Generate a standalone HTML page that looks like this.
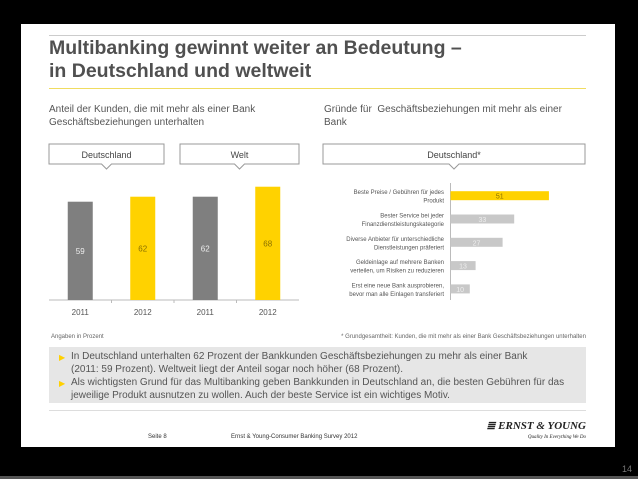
<!DOCTYPE html>
<html><head><meta charset="utf-8"><style>
body{margin:0;width:638px;height:479px;background:#000;position:relative;overflow:hidden;font-family:"Liberation Sans",sans-serif}
.a{position:absolute}
</style></head><body>
<div class="a" style="left:21px;top:24px;width:594px;height:423px;background:#fff"></div>
<div class="a" style="left:0;top:476px;width:638px;height:3px;background:#555"></div>
<div class="a" style="left:622px;top:464px;font-size:9px;color:#777">14</div>
<div class="a" style="left:49px;top:35px;width:537px;height:1px;background:#ccc"></div>
<div class="a" style="left:49px;top:37px;font-size:19.5px;font-weight:bold;color:#505050;line-height:23px">Multibanking gewinnt weiter an Bedeutung –<br>in Deutschland und weltweit</div>
<div class="a" style="left:49px;top:88px;width:537px;height:1px;background:#f0dc60"></div>
<div class="a" style="left:49px;top:103px;font-size:10px;color:#555;line-height:13px">Anteil der Kunden, die mit mehr als einer Bank<br>Geschäftsbeziehungen unterhalten</div>
<div class="a" style="left:324px;top:103px;font-size:10px;color:#555;line-height:13px">Gründe für&nbsp; Geschäftsbeziehungen mit mehr als einer<br>Bank</div>
<svg class="a" style="left:0;top:0" width="638" height="479" id="chart"></svg>
<div class="a" style="left:51px;top:334px;font-size:6px;color:#666">Angaben in Prozent</div>
<div class="a" style="right:52px;top:334px;font-size:6px;color:#666">* Grundgesamtheit: Kunden, die mit mehr als einer Bank Geschäftsbeziehungen unterhalten</div>
<div class="a" style="left:49px;top:347px;width:537px;height:56px;background:#e6e6e6;font-size:10px;color:#555;line-height:13.3px">
<div style="position:absolute;left:10px;top:4px;color:#ffd000;font-size:8px">▶</div>
<div style="position:absolute;left:22px;top:3px">In Deutschland unterhalten 62 Prozent der Bankkunden Geschäftsbeziehungen zu mehr als einer Bank<br>(2011: 59 Prozent). Weltweit liegt der Anteil sogar noch höher (68 Prozent).</div>
<div style="position:absolute;left:10px;top:30px;color:#ffd000;font-size:8px">▶</div>
<div style="position:absolute;left:22px;top:29px">Als wichtigsten Grund für das Multibanking geben Bankkunden in Deutschland an, die besten Gebühren für das<br>jeweilige Produkt ausnutzen zu wollen. Auch der beste Service ist ein wichtiges Motiv.</div>
</div>
<div class="a" style="left:49px;top:410px;width:537px;height:1px;background:#ddd"></div>
<div class="a" style="left:148px;top:434px;font-size:6px;color:#333">Seite 8</div>
<div class="a" style="left:231px;top:434px;font-size:6px;color:#333">Ernst &amp; Young-Consumer Banking Survey 2012</div>
<div class="a" style="right:52px;top:419px;font-size:11px;font-weight:bold;font-style:italic;color:#222;font-family:'Liberation Serif',serif">≣ ERNST &amp; YOUNG</div>
<div class="a" style="right:52px;top:435px;font-size:5px;font-style:italic;color:#222;font-family:'Liberation Serif',serif">Quality In Everything We Do</div>
<script>
const vCats=['2011','2012','2011','2012'];
const vVals=[59,62,62,68];
const vColors=['#7f7f7f','#ffd200','#7f7f7f','#ffd200'];
const hCats=[['Beste Preise / Gebühren für jedes','Produkt'],['Bester Service bei jeder','Finanzdienstleistungskategorie'],['Diverse Anbieter für unterschiedliche','Dienstleistungen präferiert'],['Geldeinlage auf mehrere Banken','verteilen, um Risiken zu reduzieren'],['Erst eine neue Bank ausprobieren,','bevor man alle Einlagen transferiert']];
const hVals=[51,33,27,13,10];
const svg=document.getElementById('chart');
const NS='http://www.w3.org/2000/svg';
function mk(t,a,txt){const e=document.createElementNS(NS,t);for(const k in a)e.setAttribute(k,a[k]);if(txt!=null)e.textContent=txt;svg.appendChild(e);return e;}
[[49,164,'Deutschland','de'],[180,299,'Welt','welt'],[323,585,'Deutschland*','de-reasons']].forEach(b=>{
 const cx=(b[0]+b[1])/2;
 const p=mk('path',{d:`M${b[0]} 144H${b[1]}V164H${cx+5}L${cx} 169L${cx-5} 164H${b[0]}Z`,fill:'#fff',stroke:'#999','stroke-width':1});
 
 
 const t=mk('text',{x:cx,y:158,'text-anchor':'middle','font-size':9,fill:'#444'},b[2]);
 
 
});
const base=300,scaleV=1.666,x0=49,slot=62.5,bw=25;
const vy=v=>base-v*scaleV;
const ax=mk('line',{x1:49,x2:299,y1:base,y2:base,stroke:'#bbb'});


for(let i=1;i<4;i++){const tk=mk('line',{x1:x0+slot*i,x2:x0+slot*i,y1:base,y2:base+3,stroke:'#bbb'});

}
vVals.forEach((v,i)=>{
 const cx=x0+slot*(i+0.5);
 const r=mk('rect',{x:cx-bw/2,y:vy(v),width:bw,height:base-vy(v),fill:vColors[i]});
 
 
 const t=mk('text',{x:cx,y:(vy(v)+base)/2+3,'text-anchor':'middle','font-size':8,fill:i%2?'#8a7000':'#eee'},v);
 
 
 const l=mk('text',{x:cx,y:315,'text-anchor':'middle','font-size':8,fill:'#555'},vCats[i]);
 
 
});
const hx0=450.5,scaleH=1.93,hy0=195.7,hStep=23.3,bh=9;
const ya=mk('line',{x1:hx0,x2:hx0,y1:183,y2:300,stroke:'#bbb'});


hVals.forEach((v,i)=>{
 const cy=hy0+i*hStep;
 const r=mk('rect',{x:hx0,y:cy-bh/2,width:v*scaleH,height:bh,fill:i==0?'#ffd200':'#c8c8c8'});
 
 
 const t=mk('text',{x:hx0+v*scaleH/2,y:cy+3,'text-anchor':'middle','font-size':7,fill:i==0?'#8a7000':'#eee'},v);
 
 
 hCats[i].forEach((s,j)=>{const c=mk('text',{x:444,y:cy-1.5+j*8.5,'text-anchor':'end','font-size':6,fill:'#555'},s);
 
 });
});
</script>
</body></html>
